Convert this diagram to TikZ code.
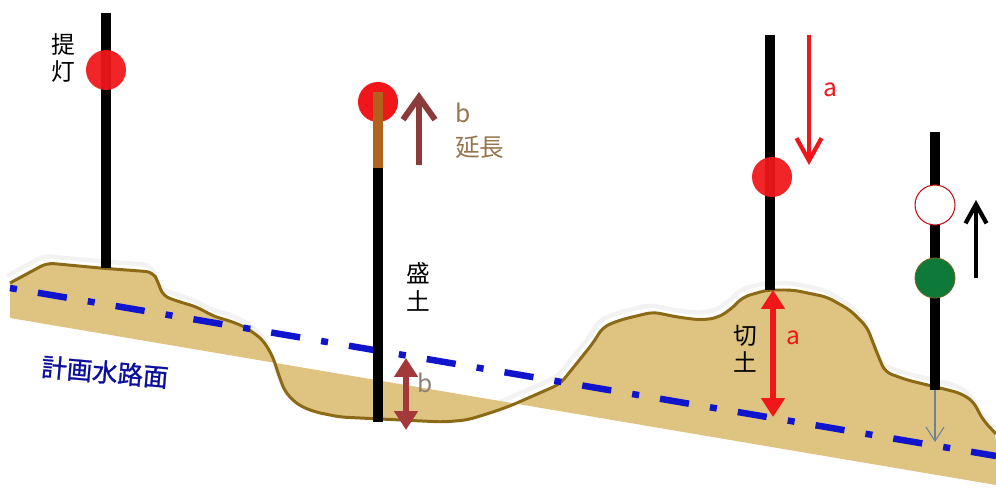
\documentclass[tikz,border=0pt]{standalone}
\usepackage{fontspec}
\setmainfont{Noto Sans CJK JP}
\usetikzlibrary{arrows.meta}

\definecolor{soil}{RGB}{222,196,128}
\definecolor{soilline}{RGB}{140,105,22}
\definecolor{planblue}{RGB}{16,20,205}
\definecolor{lampred}{RGB}{240,22,26}
\definecolor{extbrown}{RGB}{178,98,30}
\definecolor{maroon}{RGB}{140,58,58}
\definecolor{maroonb}{RGB}{163,57,59}
\definecolor{labelbrown}{RGB}{150,118,78}
\definecolor{lampgreen}{RGB}{14,122,58}
\definecolor{dropblue}{RGB}{107,130,153}

% ground profile, left to right (pixel units)
\def\groundlist{(47,263),(100,268),(153,272),(158,282),(163,296),(180,302),
  (197,307),(213,316),(233,322),(247,328),(263,340),(273,357),(278,373),
  (285,392),(298,405),(315,412),(340,417),(380,419),(443,422),(467,420),
  (490,413),(510,406),(535,395),(560,384),(577,363),(593,343),(603,327),
  (620,320),(653,312),(677,317),(700,320),(717,318),(730,310),(743,297),
  (767,290),(793,290),(827,297),(850,310),(867,327),(877,353),(885,372),
  (907,380),(940,388),(960,393),(973,401),(983,420),(996,434)}

\begin{document}
\begin{tikzpicture}[x=0.02cm, y=-0.02cm,
  pole/.style={line width=5.8pt},
  lamp/.style={circle, minimum size=0.8cm, inner sep=0pt, fill=lampred},
  tag/.style={font=\fontsize{13.5}{15.5}\selectfont, inner sep=0pt, align=center},
  planline/.style={planblue, line width=3.7pt,
    dash pattern=on 4pt off 12.1pt on 16.7pt off 12.1pt},
  upbarb/.style={-{Straight Barb[length=0.45cm, width=0.64cm]}},
  dimline/.style={{Triangle[length=0.38cm, width=0.46cm]}-{Triangle[length=0.38cm, width=0.46cm]}}]
\useasboundingbox (0,0) rectangle (996,489);

% ground, faint shadow first
\draw[gray!10, line width=2.5pt, rounded corners=4pt, shift={(-3,-7)}]
  (10,283) \foreach \p in \groundlist {-- \p};
\fill[soil, even odd rule]
  [rounded corners=4pt] (10,283) \foreach \p in \groundlist {-- \p}
  [sharp corners] -- (996,485) -- (10,318) -- cycle;
\draw[soilline, line width=1.7pt, rounded corners=4pt, line join=round]
  (10,283) \foreach \p in \groundlist {-- \p};

% planned channel surface
\coordinate (planL) at (10,288);
\coordinate (planR) at (996,456);
\draw[planline] (planL) -- (planR);

% poles
\coordinate (poleAtop) at (106,13);   \coordinate (poleAfoot) at (106,268);
\coordinate (poleBext) at (378,92);   \coordinate (poleBtop) at (378,168);
\coordinate (poleBfoot) at (378,422);
\coordinate (poleCtop) at (770,35);   \coordinate (poleCfoot) at (770,290);
\coordinate (poleDtop) at (935,132);  \coordinate (poleDfoot) at (935,390);

\draw[pole] (poleAtop) -- (poleAfoot);
\draw[pole] (poleBtop) -- (poleBfoot);
\draw[pole] (poleCtop) -- (poleCfoot);
\draw[pole] (poleDtop) -- (poleDfoot);

% lamps
\node[lamp, fill opacity=0.94] (lampA) at (106,70) {};
\node[lamp] (lampB) at (378,102) {};
\draw[pole, extbrown] (poleBext) -- (poleBtop);
\node[lamp, fill opacity=0.94] (lampC) at (772,177) {};
\node[lamp, fill=white, draw=lampred!80!black, line width=0.6pt] (lampD) at (935,205) {};
\node[lamp, fill=lampgreen, draw=olive!70!black, line width=0.5pt] (lampE) at (935,278) {};

% arrows
\coordinate (extFoot) at (419,165);  \coordinate (extTip) at (419,92);
\coordinate (cutTop) at (809,35);    \coordinate (cutTip) at (809,165);
\coordinate (riseFoot) at (976,278); \coordinate (riseTip) at (976,200);
\coordinate (dropTip) at (935,442);
\coordinate (fillTop) at (406,358);  \coordinate (fillBot) at (406,430);
\coordinate (cutDimTop) at (773,290); \coordinate (cutDimBot) at (773,417);

\draw[upbarb, maroon, line width=3.4pt] (extFoot) -- (extTip);
\draw[-{Straight Barb[length=0.45cm, width=0.5cm]}, lampred, line width=2.4pt] (cutTop) -- (cutTip);
\draw[-{Straight Barb[length=0.38cm, width=0.42cm]}, line width=2.4pt] (riseFoot) -- (riseTip);
\draw[-{Straight Barb[length=0.28cm, width=0.36cm]}, dropblue, line width=0.6pt] (poleDfoot) -- (dropTip);
\draw[dimline, maroonb, line width=3.4pt] (fillTop) -- (fillBot);
\draw[dimline, lampred, line width=3pt] (cutDimTop) -- (cutDimBot);

% labels
\node[tag] (lblLamp) at (63,58) {提\\灯};
\node[tag, labelbrown, anchor=west, font=\fontsize{14}{14}\selectfont] (lblExtB) at (455,113) {b};
\node[tag, labelbrown, anchor=west, font=\fontsize{14}{14}\selectfont] (lblExt) at (455,147) {延長};
\node[tag] (lblFill) at (418,287) {盛\\土};
\node[tag] (lblCut) at (745,349) {切\\土};
\node[tag, lampred, font=\fontsize{14}{14}\selectfont] (lblA1) at (830,90) {a};
\node[tag, lampred, font=\fontsize{14}{14}\selectfont] (lblA2) at (793,338) {a};
\node[tag, gray!80!brown, font=\fontsize{14}{14}\selectfont] (lblB2) at (425,383) {b};
\node[tag, planblue!75!black, rotate=-5, font=\fontsize{14.5}{14}\selectfont\addfontfeature{FakeBold=1}] (lblPlan) at (105,372) {計画水路面};
\end{tikzpicture}
\end{document}
